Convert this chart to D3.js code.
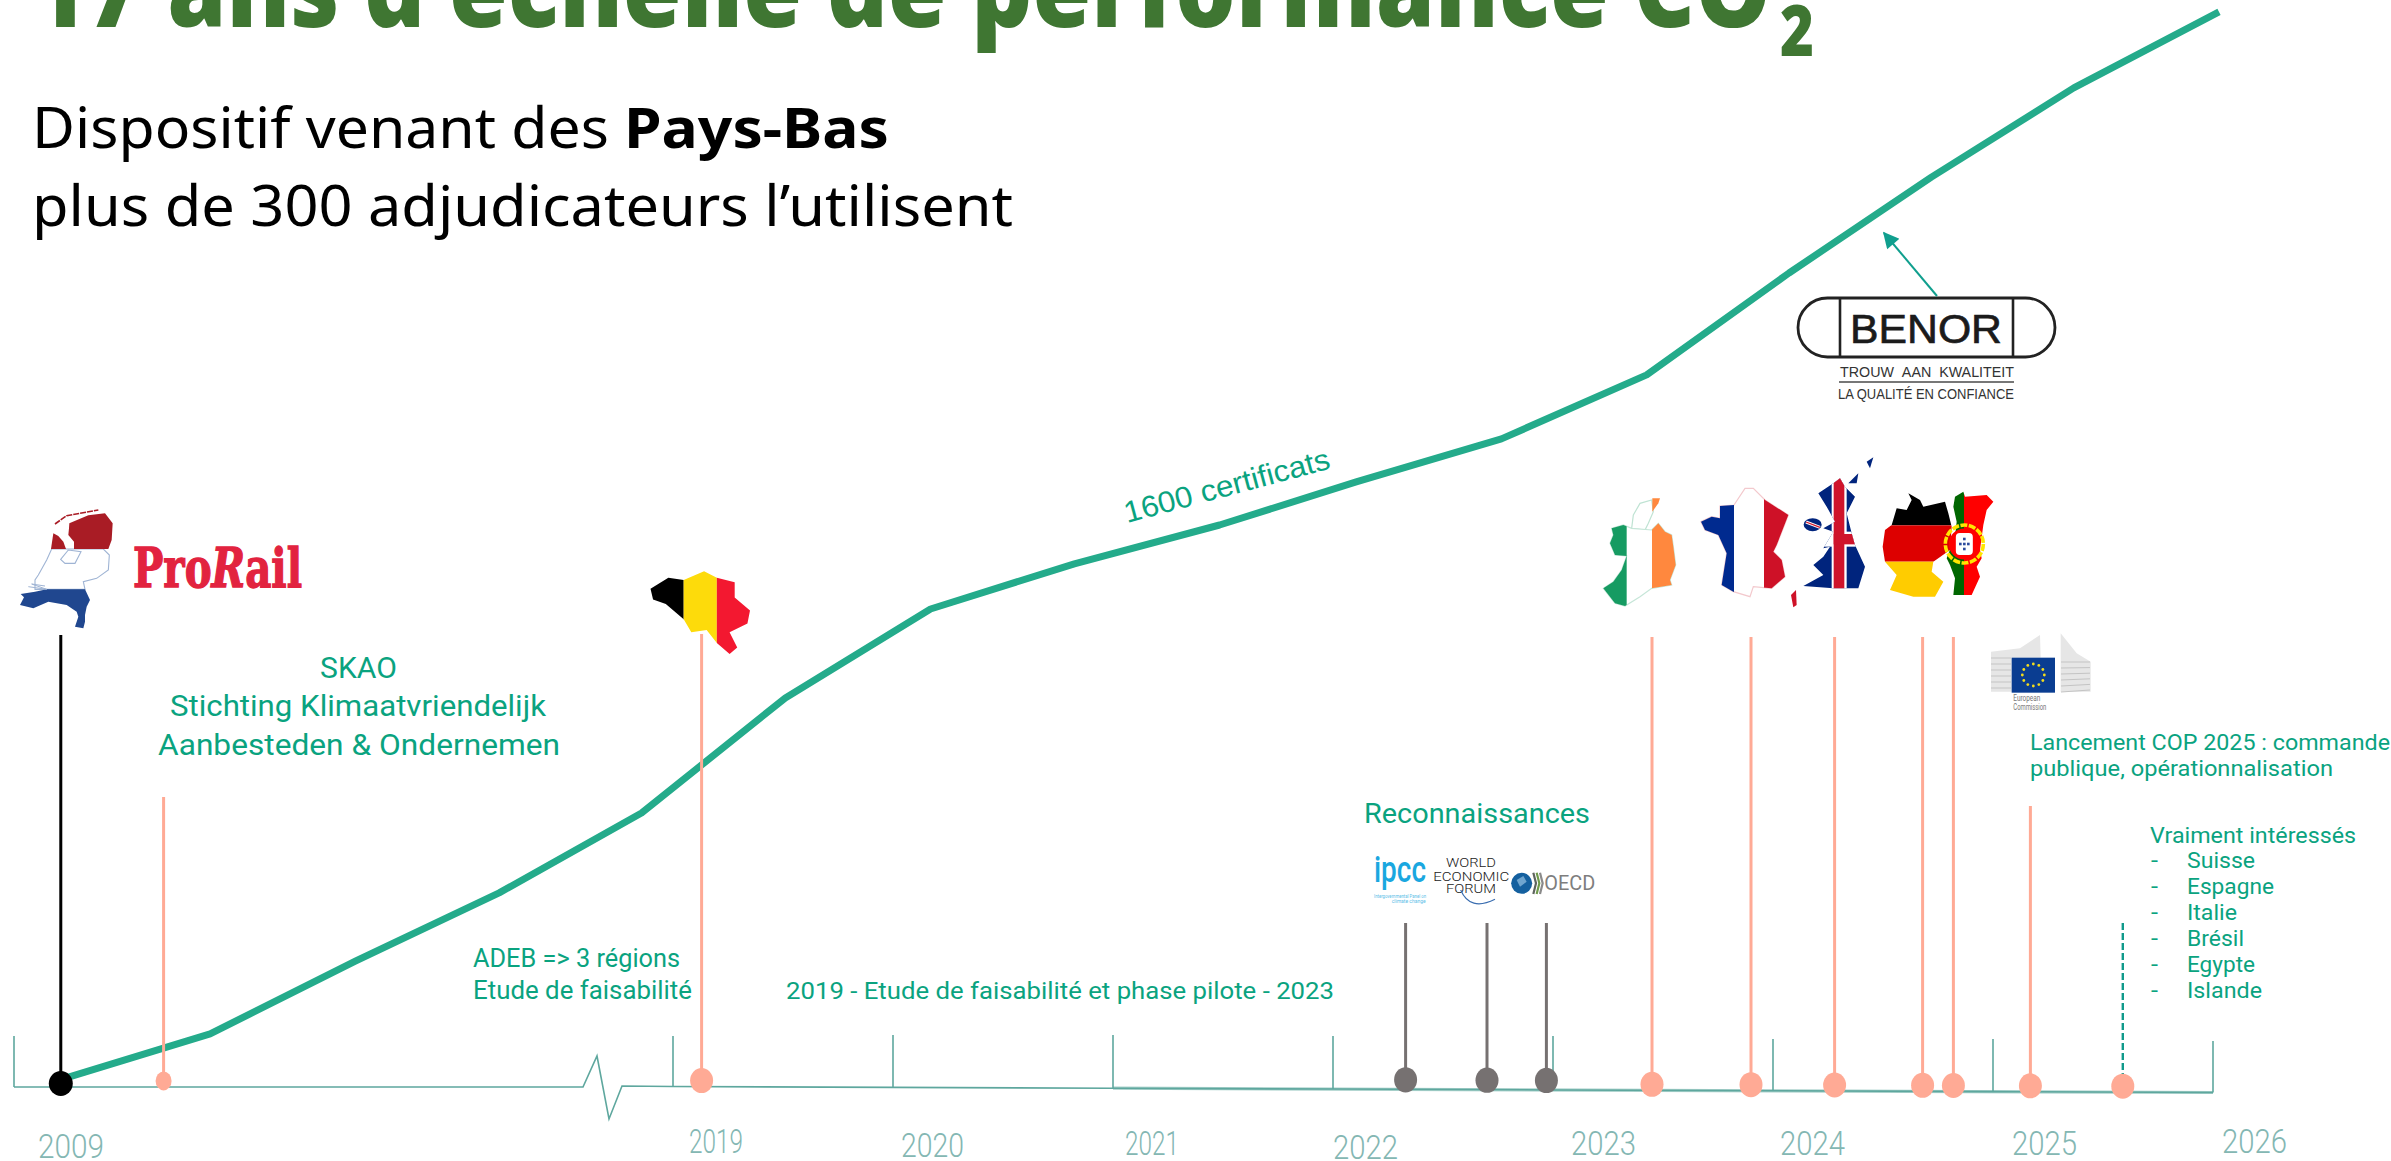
<!DOCTYPE html>
<html lang="fr">
<head>
<meta charset="utf-8">
<script src="https://cdn.jsdelivr.net/npm/d3@7"></script>
<style>
html,body{margin:0;padding:0;background:#fff;overflow:hidden}
svg{display:block}
</style>
</head>
<body>
<svg id="c" width="2391" height="1161" viewBox="0 0 2391 1161"></svg>
<script>
// ---- data ----
const titleMain = "17 ans d’échelle de performance CO";
const titleSub = "2";
const curveYears = [2009, 2010.03, 2011.04, 2012.04, 2013.03, 2014.03, 2015.04, 2016.04, 2017.05, 2018, 2019.01, 2020.02, 2021.01, 2022, 2022.99, 2024];
const curveCertificates = [17, 146, 354, 549, 777, 1106, 1360, 1489, 1600, 1723, 1846, 2029, 2320, 2594, 2849, 3066];

const tickYears = [2009, 2019, 2020, 2021, 2022, 2023, 2024, 2025, 2026];
const tickLabels = ["2009", "2019", "2020", "2021", "2022", "2023", "2024", "2025", "2026"];

const blackPins = [2009.71];
const salmonPins = [2011.27, 2019.13, 2023.45, 2023.90, 2024.28, 2024.68, 2024.82, 2025.17, 2025.59];
const greyPins = [2022.33, 2022.70, 2022.97];

const interestedCountries = ["Suisse", "Espagne", "Italie", "Brésil", "Egypte", "Islande"];

// ---- layout ----
const W = 2391, H = 1161;
const TEAL = "#0aa37f", LINE = "#24ab8b", AXIS = "#5ea79e", LABEL = "#84b7b3", SALMON = "#ffaa95", GREY = "#767171";
const svg = d3.select("#c");
const x = d3.scaleLinear().domain([2009, 2024]).range([62, 2219]);
const y = d3.scaleLinear().domain([0, 3000]).range([1085, 35]);
const timeX = d3.scaleLinear().domain([2009, 2019, 2026]).range([14, 673, 2213]);
const axisY = d3.scaleLinear().domain([2009, 2019, 2026]).range([1087, 1086.5, 1092.5]);

const tickTop = { 2009: 1036, 2019: 1036, 2020: 1035, 2021: 1035, 2022: 1036, 2023: 1036, 2024: 1039, 2025: 1039, 2026: 1041 };
const labelBox = { // left, width, baseline of the year labels
  2009: [38, 66, 1158], 2019: [689, 54, 1153], 2020: [901, 63, 1157], 2021: [1125, 54, 1155], 2022: [1333, 65, 1159],
  2023: [1571, 65, 1155], 2024: [1780, 65, 1155], 2025: [2012, 65, 1155], 2026: [2222, 65, 1153]
};

function T(g, s, px, py, size, width, o = {}) {
  const t = g.append("text").attr("x", px).attr("y", py).text(s)
    .attr("font-family", o.font || "Roboto").attr("font-size", size)
    .attr("font-weight", o.weight || 400).attr("fill", o.fill || TEAL);
  if (width) t.attr("textLength", width).attr("lengthAdjust", "spacingAndGlyphs");
  if (o.style) t.attr("font-style", o.style);
  if (o.fat) t.attr("stroke", o.fill || TEAL).attr("stroke-width", o.fat);
  return t;
}
const lineFn = d3.line();
const closed = d3.line().curve(d3.curveLinearClosed);
const map = (pts, kx, ky, ox, oy) => pts.map(([a, b]) => [a / kx + ox, b / ky + oy]);
let clipId = 0;
function clipGroup(g, pts, edge) {
  if (edge) g.append("path").attr("d", closed(pts)).attr("fill", "#fff").attr("stroke", edge).attr("stroke-width", 1.2);
  const id = "clip" + (++clipId);
  svg.select("defs").append("clipPath").attr("id", id).append("path").attr("d", closed(pts));
  return g.append("g").attr("clip-path", `url(#${id})`);
}
function bands(g, rects) { rects.forEach(([a, b, c, d, col]) => g.append("rect").attr("x", a).attr("y", b).attr("width", c - a).attr("height", d - b).attr("fill", col)); }

const defs = svg.append("defs");
defs.append("marker").attr("id", "arrow").attr("viewBox", "0 0 10 10").attr("refX", 9).attr("refY", 5)
  .attr("markerWidth", 9).attr("markerHeight", 8).attr("orient", "auto").attr("markerUnits", "strokeWidth")
  .append("path").attr("d", "M0,0L10,5L0,10Z").attr("fill", "#109f8e");

// ---- title ----
T(svg, titleMain, 31, 27, 108, 1740, { font: "Open Sans", weight: 800, fill: "#3f7632" });
T(svg, titleSub, 1780, 56, 70, 34, { font: "Open Sans", weight: 800, fill: "#3f7632" });
T(svg, "Dispositif venant des", 32, 148, 56, 577, { font: "Noto Sans", fill: "#000" });
T(svg, "Pays-Bas", 624, 148, 56, 265, { font: "Noto Sans", weight: 700, fill: "#000" });
T(svg, "plus de 300 adjudicateurs l’utilisent", 32, 226, 56, 981, { font: "Noto Sans", fill: "#000" });

// ---- timeline axis ----
const axisG = svg.append("g");
const breakOffsets = [[583, 0], [597, -31], [609, 32], [622, -1]];
const laterYears = tickYears.filter(d => d >= 2019);
const axisPts = [[timeX(2009), axisY(2009)], ...breakOffsets.map(([a, b]) => [a, 1087 + b]), ...laterYears.map(d => [timeX(d), axisY(d)])];
axisG.append("path").attr("d", lineFn([[timeX(2021), axisY(2021)], [timeX(2026), axisY(2026)]]))
  .attr("fill", "none").attr("stroke", "#a5cfc9").attr("stroke-width", 3.2);
axisG.append("path").attr("d", lineFn(axisPts)).attr("fill", "none").attr("stroke", AXIS).attr("stroke-width", 1.6);
axisG.selectAll("line.tick").data(tickYears).join("line").attr("class", "tick")
  .attr("x1", d => timeX(d)).attr("x2", d => timeX(d))
  .attr("y1", d => tickTop[d]).attr("y2", d => axisY(d))
  .attr("stroke", AXIS).attr("stroke-width", 1.6);
tickYears.forEach((d, i) => {
  const b = labelBox[d];
  T(axisG, tickLabels[i], b[0], b[2], 33, b[1], { weight: 300, fill: LABEL });
});

// ---- certificate curve ----
svg.append("path").datum(curveYears.map((d, i) => [x(d), y(curveCertificates[i])]))
  .attr("d", lineFn).attr("fill", "none").attr("stroke", LINE).attr("stroke-width", 7).attr("stroke-linejoin", "round");

// ---- pins ----
const stemTop = { 2009.71: 635, 2011.27: 797, 2019.13: 634, 2023.45: 637, 2023.90: 637, 2024.28: 637, 2024.68: 637, 2024.82: 637, 2025.17: 806, 2025.59: 923, 2022.33: 923, 2022.70: 923, 2022.97: 923 };
const pins = svg.append("g");
function drawPins(list, col, w, rx, ry, lift) {
  pins.selectAll(null).data(list).join("line")
    .attr("x1", d => timeX(d)).attr("x2", d => timeX(d))
    .attr("y1", d => stemTop[d]).attr("y2", d => axisY(d) - lift)
    .attr("stroke", col).attr("stroke-width", w);
  pins.selectAll(null).data(list).join("ellipse")
    .attr("cx", d => timeX(d)).attr("cy", d => axisY(d) - lift)
    .attr("rx", rx).attr("ry", ry).attr("fill", col);
}
const dashed = 2025.59;
drawPins(blackPins, "#000", 3, 12, 12.5, 3.5);
drawPins(greyPins, GREY, 3, 11.5, 12.7, 9.5);
drawPins(salmonPins.filter(d => d !== dashed), SALMON, 3, d => d < 2019 ? 8 : 11.5, d => d < 2019 ? 9.5 : 12.5, 6);
// dashed stem of the last pin
pins.append("line").attr("x1", timeX(dashed)).attr("x2", timeX(dashed)).attr("y1", stemTop[dashed]).attr("y2", axisY(dashed) - 6)
  .attr("stroke", "#109a8b").attr("stroke-width", 2.4).attr("stroke-dasharray", "7 3");
pins.append("ellipse").attr("cx", timeX(dashed)).attr("cy", axisY(dashed) - 6).attr("rx", 11.5).attr("ry", 12.5).attr("fill", SALMON);

// ---- annotations ----
const notes = svg.append("g");
T(notes, "SKAO", 320, 678, 29, 77);
T(notes, "Stichting Klimaatvriendelijk", 170, 716, 29, 376);
T(notes, "Aanbesteden & Ondernemen", 158, 755, 29, 402);
T(notes, "ADEB => 3 régions", 473, 967, 25, 207);
T(notes, "Etude de faisabilité", 473, 999, 25, 219);
T(notes, "2019 - Etude de faisabilité et phase pilote - 2023", 786, 999, 24, 548);
T(notes, "Reconnaissances", 1364, 823, 27, 226);
T(notes, "Lancement COP 2025 : commande", 2030, 750, 22, 360);
T(notes, "publique, opérationnalisation", 2030, 776, 22, 303);
T(notes, "Vraiment intéressés", 2150, 843, 22, 206);
const nameWidth = [68, 87, 50, 57, 68, 75];
interestedCountries.forEach((c, i) => {
  const by = 868 + i * 26;
  T(notes, "-", 2151, by, 22, 7);
  T(notes, c, 2187, by, 22, nameWidth[i]);
});
T(notes, "1600 certificats", 0, 0, 30, 212, { font: "Liberation Sans" }).attr("transform", "translate(1127,523) rotate(-15)");

// ---- BENOR ----
const ben = svg.append("g");
ben.append("rect").attr("x", 1798).attr("y", 298).attr("width", 257).attr("height", 59).attr("rx", 29.5)
  .attr("fill", "#fff").attr("stroke", "#222").attr("stroke-width", 2.8);
[1840, 2013].forEach(v => ben.append("line").attr("x1", v).attr("x2", v).attr("y1", 298).attr("y2", 357).attr("stroke", "#222").attr("stroke-width", 2.6));
T(ben, "BENOR", 1850, 343, 41, 152, { font: "Liberation Sans", fill: "#1b1b1b", fat: 0.7 });
T(ben, "TROUW\u00a0\u00a0AAN\u00a0\u00a0KWALITEIT", 1840, 377, 14.5, 174, { font: "Liberation Sans", fill: "#333" });
ben.append("line").attr("x1", 1839).attr("x2", 2014).attr("y1", 382).attr("y2", 382).attr("stroke", "#777").attr("stroke-width", 2);
T(ben, "LA QUALITÉ EN CONFIANCE", 1838, 399, 14.5, 176, { font: "Liberation Sans", fill: "#333" });
svg.append("line").attr("x1", 1937).attr("y1", 296).attr("x2", 1884).attr("y2", 233)
  .attr("stroke", "#109f8e").attr("stroke-width", 2).attr("marker-end", "url(#arrow)");

// ---- ProRail + Netherlands ----
const pr = T(svg, "", 133, 587, 55, 169, { font: "DejaVu Serif", weight: 700, fill: "#e2233f", fat: 1.4 });
pr.append("tspan").text("Pro");
pr.append("tspan").attr("font-style", "italic").text("R");
pr.append("tspan").text("ail");

const nl = svg.append("g");
const nlK = [3, 3, 0, 500];
nl.append("path").attr("d", closed(map([[155,147],[140,180],[115,225],[105,240],[105,268],[255,268],[250,245],[290,235],[325,210],[328,165],[310,147]], ...nlK)))
  .attr("fill", "#fff").attr("stroke", "#9fb4d4").attr("stroke-width", 1.1);
nl.append("path").attr("d", closed(map([[182,178],[205,150],[243,155],[225,190],[195,190]], ...nlK)))
  .attr("fill", "#fff").attr("stroke", "#9fb4d4").attr("stroke-width", 1.1);
nl.append("path").attr("d", closed(map([[208,70],[265,46],[315,40],[338,70],[335,120],[325,147],[222,147],[222,125],[205,105],[207,85]], ...nlK))).attr("fill", "#a91c25");
nl.append("path").attr("d", closed(map([[160,100],[175,108],[190,125],[198,147],[153,147]], ...nlK))).attr("fill", "#a91c25");
nl.append("path").attr("d", lineFn(map([[165,72],[200,47],[295,30]], ...nlK))).attr("fill", "none").attr("stroke", "#a91c25").attr("stroke-width", 1.6).attr("stroke-dasharray", "6 1");
nl.append("path").attr("d", closed(map([[140,268],[255,268],[270,300],[260,320],[255,345],[255,365],[250,385],[225,380],[235,350],[230,335],[200,315],[145,305],[100,325],[60,315],[72,292],[62,282],[105,275]], ...nlK))).attr("fill", "#20478f");
nl.append("path").attr("d", lineFn(map([[85,260],[140,268],[95,252],[135,258]], ...nlK))).attr("fill", "none").attr("stroke", "#9fb4d4").attr("stroke-width", 1);

// ---- Belgium ----
const beOutline = map([[1275,250],[1310,225],[1340,230],[1380,210],[1405,225],[1440,235],[1440,270],[1470,300],[1465,330],[1430,350],[1445,385],[1430,400],[1405,375],[1385,345],[1355,350],[1340,320],[1305,285],[1280,275]], 1.96, 2.3, 0, 480);
bands(clipGroup(svg, beOutline), [[640,560,1340/1.96,700,"#000"],[1340/1.96,560,1405/1.96,700,"#fddb0b"],[1405/1.96,560,780,700,"#f31830"]]);

// ---- Ireland ----
const zA = [3, 3, 1590, 480];
const niOutline = map([[130,105],[150,70],[185,60],[190,95],[175,130],[165,150],[125,145]], ...zA);
svg.append("path").attr("d", closed(niOutline)).attr("fill", "#fff").attr("stroke", "#bfe3d3").attr("stroke-width", 1.2);
const ieOutline = map([[65,145],[100,135],[125,145],[185,150],[205,130],[225,155],[245,165],[250,200],[257,255],[240,300],[245,315],[185,325],[150,350],[105,378],[75,370],[40,325],[70,305],[95,270],[110,228],[75,225],[60,190],[70,165]], ...zA);
const ie = clipGroup(svg, ieOutline, "#c6e6d8");
bands(ie, [[1590,500,1590+110/3,620,"#169b62"],[1590+186/3,500,1700,620,"#ff883e"]]);
svg.append("path").attr("d", closed(map([[187,55],[210,55],[205,70],[187,95]], ...zA))).attr("fill", "#ff883e");

// ---- France ----
const frOutline = map([[333,125],[365,110],[390,115],[390,78],[432,75],[465,25],[490,25],[525,60],[595,105],[560,195],[550,215],[575,240],[585,290],[545,325],[490,320],[480,350],[430,335],[395,315],[410,220],[385,165],[345,150]], ...zA);
bands(clipGroup(svg, frOutline, "#f3c9cd"), [[1690,480,1590+432/3,620,"#002a8f"],[1590+522/3,480,1800,620,"#ce1127"]]);
svg.append("path").attr("d", closed(map([[618,330],[620,375],[610,382],[603,345]], ...zA))).attr("fill", "#ce1127");

// ---- United Kingdom ----
const zB = [3, 3, 1790, 450];
const ukOutline = map([[150,85],[165,110],[195,140],[170,190],[185,250],[195,285],[225,350],[205,415],[130,415],[40,408],[100,375],[70,345],[100,320],[120,290],[100,295],[130,245],[100,235],[135,215],[110,170],[85,130],[130,100]], ...zB);
bands(clipGroup(svg, ukOutline), [
  [1790,470,1900,600,"#00247d"],
  [1790+125/3,470,1790+170/3,600,"#fff"],[1790+100/3,450+245/3,1790+200/3,450+290/3,"#fff"],
  [1790+131/3,470,1790+163/3,600,"#cf142b"],[1790+131/3,450+252/3,1790+200/3,450+283/3,"#cf142b"]]);
svg.append("path").attr("d", closed(map([[230,35],[250,22],[240,55]], ...zB))).attr("fill", "#00247d");
svg.append("path").attr("d", closed(map([[175,100],[205,70],[200,100]], ...zB))).attr("fill", "#00247d");
svg.append("ellipse").attr("cx", 1790 + 68 / 3).attr("cy", 450 + 224 / 3).attr("rx", 9).attr("ry", 6.5).attr("fill", "#00247d");
svg.append("line").attr("x1", 1790 + 48 / 3).attr("y1", 450 + 216 / 3).attr("x2", 1790 + 90 / 3).attr("y2", 450 + 232 / 3).attr("stroke", "#fff").attr("stroke-width", 3);
svg.append("line").attr("x1", 1790 + 48 / 3).attr("y1", 450 + 216 / 3).attr("x2", 1790 + 90 / 3).attr("y2", 450 + 232 / 3).attr("stroke", "#cf142b").attr("stroke-width", 1.2);

// ---- Germany ----
const deOutline = map([[355,130],[390,150],[400,170],[465,155],[475,190],[485,230],[480,300],[430,335],[425,365],[460,395],[435,440],[370,440],[300,420],[320,375],[285,335],[278,290],[285,240],[305,225],[320,175],[350,180],[365,150]], ...zB);
bands(clipGroup(svg, deOutline), [[1870,480,1960,450+226/3,"#000"],[1870,450+226/3,1960,450+335/3,"#dd0000"],[1870,450+335/3,1960,600,"#ffcc00"]]);

// ---- Portugal ----
const ptOutline = map([[495,140],[520,125],[525,140],[590,135],[610,155],[590,180],[580,225],[570,300],[575,325],[560,350],[570,380],[545,435],[490,435],[495,385],[480,345],[470,325],[495,260],[500,215],[490,170]], ...zB);
bands(clipGroup(svg, ptOutline), [[1940,480,1790+522/3,610,"#006600"],[1790+522/3,480,2010,610,"#ff0000"]]);
const pcx = 1790 + 523 / 3, pcy = 450 + 282 / 3;
svg.append("circle").attr("cx", pcx).attr("cy", pcy).attr("r", 19).attr("fill", "none").attr("stroke", "#ffe600").attr("stroke-width", 3.6).attr("stroke-dasharray", "7 1.5");
svg.append("circle").attr("cx", pcx).attr("cy", pcy).attr("r", 15.5).attr("fill", "#ff0000");
svg.append("rect").attr("x", pcx - 8.5).attr("y", pcy - 11).attr("width", 17).attr("height", 22).attr("rx", 4).attr("fill", "#fff");
[[0,-5],[-4,0],[0,0],[4,0],[0,5]].forEach(([a, b]) => svg.append("rect").attr("x", pcx + a - 1.3).attr("y", pcy + b - 1.3).attr("width", 2.6).attr("height", 2.6).attr("fill", "#2b4a9c"));

// ---- European Commission ----
const ec = svg.append("g");
const zC = [3, 3, 1970, 620];
ec.append("path").attr("d", closed(map([[63,95],[150,85],[210,45],[212,113],[125,113],[125,215],[63,215]], ...zC))).attr("fill", "#e6e6e6");
ec.append("path").attr("d", closed(map([[272,40],[320,100],[362,125],[362,215],[272,215]], ...zC))).attr("fill", "#e6e6e6");
d3.range(6).forEach(i => {
  ec.append("line").attr("x1", 1991).attr("x2", 2011).attr("y1", 658 + i * 6).attr("y2", 658 + i * 6).attr("stroke", "#c4c4c4");
  ec.append("line").attr("x1", 2061).attr("x2", 2090).attr("y1", 662 + i * 6).attr("y2", 662 + i * 5.6).attr("stroke", "#c4c4c4");
});
ec.append("rect").attr("x", 1970 + 125 / 3).attr("y", 620 + 113 / 3).attr("width", 130 / 3).attr("height", 105 / 3).attr("fill", "#0a3d91");
d3.range(12).forEach(i => {
  const a = i * Math.PI / 6;
  ec.append("circle").attr("cx", 1970 + 190 / 3 + 11 * Math.cos(a)).attr("cy", 620 + 165 / 3 + 11 * Math.sin(a)).attr("r", 1.4).attr("fill", "#f3dc1c");
});
T(ec, "European", 1970 + 130 / 3, 620 + 243 / 3, 8.5, 27, { fill: "#777" });
T(ec, "Commission", 1970 + 130 / 3, 620 + 269 / 3, 8.5, 33, { fill: "#777" });

// ---- recognised bodies ----
const rec = svg.append("g");
const zD = (a, b) => [1360 + a / 3, 840 + b / 3];
T(rec, "ipcc", zD(42, 0)[0], zD(0, 125)[1], 37, 52, { weight: 500, fill: "#1aa7e0" });
T(rec, "Intergovernmental Panel on", zD(42, 0)[0], zD(0, 173)[1], 5.2, 52, { fill: "#5cc0e8" });
T(rec, "climate change", zD(95, 0)[0], zD(0, 190)[1], 5.2, 34, { fill: "#5cc0e8" });
T(rec, "WORLD", zD(258, 0)[0], zD(0, 80)[1], 12, 50, { weight: 300, fill: "#222" });
T(rec, "ECONOMIC", zD(220, 0)[0], zD(0, 122)[1], 12, 76, { weight: 300, fill: "#222" });
T(rec, "FORUM", zD(258, 0)[0], zD(0, 160)[1], 12, 50, { weight: 300, fill: "#222" });
rec.append("path").attr("d", `M${zD(302, 150)} Q${zD(330, 215)} ${zD(405, 178)}`).attr("fill", "none").attr("stroke", "#3a6db0").attr("stroke-width", 1.2);
rec.append("circle").attr("cx", zD(485, 0)[0]).attr("cy", zD(0, 130)[1]).attr("r", 10.5).attr("fill", "#14609f");
rec.append("path").attr("d", closed([zD(470, 120), zD(490, 108), zD(500, 125), zD(480, 140)])).attr("fill", "#6fa5cf");
[[520, "#5f645f"], [530, "#6f9a4a"], [540, "#8a8a8a"]].forEach(([a, col]) =>
  rec.append("path").attr("d", lineFn([zD(a, 98), zD(a + 8, 130), zD(a, 162)])).attr("fill", "none").attr("stroke", col).attr("stroke-width", 2.2));
T(rec, "OECD", zD(553, 0)[0], zD(0, 150)[1], 20, 51, { font: "Roboto", weight: 400, fill: "#7e7e7e" });
</script>
</body>
</html>
